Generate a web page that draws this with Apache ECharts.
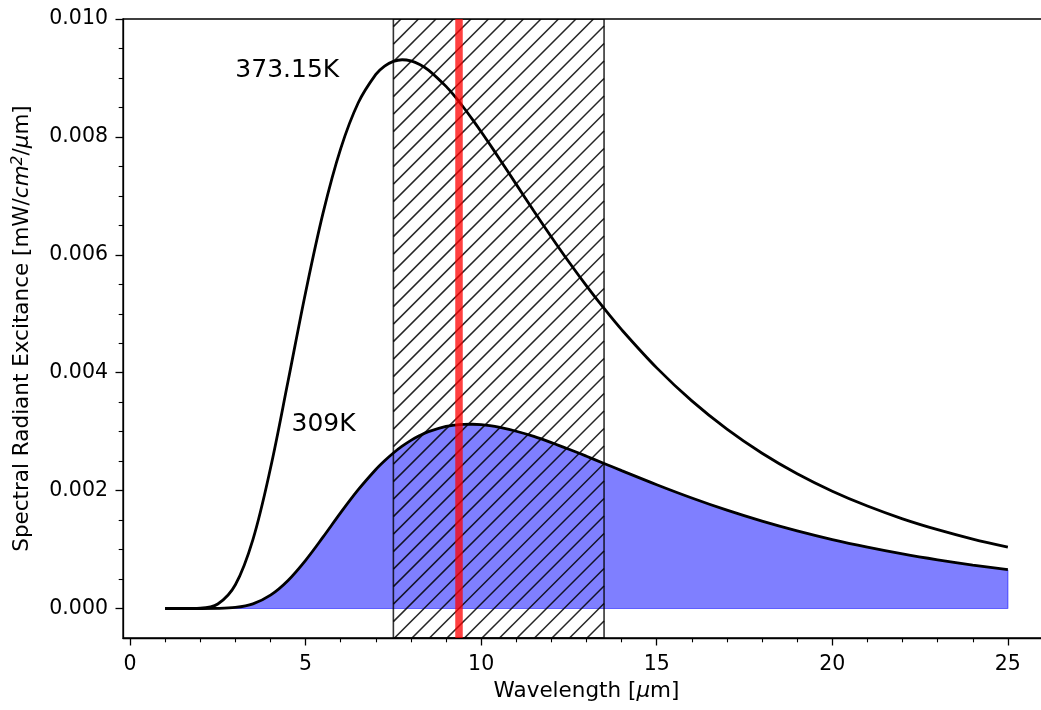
<!DOCTYPE html>
<html>
<head>
<meta charset="utf-8">
<script src="https://cdn.jsdelivr.net/npm/echarts@6/dist/echarts.min.js"></script>
<style>
html,body{margin:0;padding:0;background:#fff;}
#chart{width:1041px;height:710px;}
</style>
</head>
<body>
<div id="chart"></div>
<script>
// Wavelength grid [µm]
const wavelength = [1,1.5,2,2.5,3,3.5,4,4.5,5,5.5,6,6.5,7,7.25,7.5,7.75,8,8.25,8.5,9,9.25,9.5,9.75,10,10.25,10.5,11,11.5,12,12.5,13,13.5,14,15,16,17,18,19,20,21,22,23,24,25];
// Upper curve (373.15K)
const exc373 = [0,0,0.0000050,0.0000768,0.000403,0.001170,0.002379,0.003854,0.005362,0.006715,0.007801,0.008579,0.009060,0.009201,0.009281,0.009309,0.009288,0.009228,0.009133,0.008857,0.008686,0.008499,0.008298,0.008088,0.007870,0.007647,0.007195,0.006744,0.006303,0.005878,0.005473,0.005090,0.004730,0.004082,0.003522,0.003043,0.002634,0.002286,0.001990,0.001738,0.001522,0.001338,0.001179,0.001043];
// Lower, filled curve (labelled 309K)
const exc309 = [0,0,0,0.0000018,0.0000176,0.0000797,0.000227,0.000477,0.000818,0.001214,0.001626,0.002015,0.002358,0.002506,0.002638,0.002753,0.002852,0.002934,0.003000,0.003088,0.003112,0.003124,0.003126,0.003118,0.003101,0.003076,0.003007,0.002919,0.002815,0.002702,0.002583,0.002461,0.002339,0.002100,0.001875,0.001668,0.001482,0.001316,0.001169,0.001040,0.000925,0.000825,0.000737,0.000659];
// Hatched band and red marker line
const bandRange = [7.5, 13.5];
const peakLineX = [9.37];
// Annotations
const annoText = ['373.15K', '309K'];
const annoX = [3, 4.6];
const annoY = [0.009, 0.003];
// Ticks
const xMajorTicks = [0,5,10,15,20,25];
const xMinorTicks = [1,2,3,4,6,7,8,9,11,12,13,14,16,17,18,19,21,22,23,24,26];
const yMajorTicks = [0,0.002,0.004,0.006,0.008,0.010];
const yMinorTicks = [0.0005,0.001,0.0015,0.0025,0.003,0.0035,0.0045,0.005,0.0055,0.0065,0.007,0.0075,0.0085,0.009,0.0095];

const FONT = 'DejaVu Sans';
const chart = echarts.init(document.getElementById('chart'), null, {renderer:'canvas'});

const hotData = wavelength.map((x,i)=>[x, exc373[i]]);
const bodyData = wavelength.map((x,i)=>[x, exc309[i]]);
const lastX = wavelength[wavelength.length-1];
const lastY = exc309[exc309.length-1];

const xRange = {min:-0.2, max:26.2};
const yRange = {min:-0.0005, max:0.010};

function hatchRender(params, api){
  const x0 = api.coord([api.value(0), 0])[0];
  const x1 = api.coord([api.value(1), 0])[0];
  const cs = params.coordSys;
  const top = cs.y, bottom = cs.y + cs.height;
  const step = 17.5;
  const children = [];
  const cStart = Math.floor((x0 + top)/step)*step;
  for(let c = cStart; c <= x1 + bottom; c += step){
    const xa = Math.max(x0, c - bottom);
    const xb = Math.min(x1, c - top);
    if(xb > xa){
      children.push({type:'line', shape:{x1:xa, y1:c-xa, x2:xb, y2:c-xb},
        style:{stroke:'rgba(0,0,0,0.85)', lineWidth:1.5}});
    }
  }
  children.push({type:'rect', shape:{x:x0, y:top, width:x1-x0, height:bottom-top},
    style:{fill:'none', stroke:'rgba(0,0,0,0.8)', lineWidth:1.6}});
  return {type:'group', children};
}

function textRender(params, api){
  const p = api.coord([api.value(0), api.value(1)]);
  return {type:'text', x:p[0], y:p[1]+5,
    style:{text:annoText[params.dataIndex], fill:'#000', font:'25px "DejaVu Sans"',
           align:'left', verticalAlign:'bottom'}};
}

const axisFont = {fontFamily:FONT, fontSize:20.5, color:'#000'};

const option = {
  animation:false,
  backgroundColor:'#fff',
  grid:{left:123, top:19, width:927, height:619, show:true, borderColor:'#000', borderWidth:1.3,
        containLabel:false, outerBoundsMode:'none'},
  xAxis:[{
    type:'value', min:xRange.min, max:xRange.max,
    name:'Wavelength [{i|μ}m]', nameLocation:'middle', nameGap:42,
    nameTextStyle:{fontFamily:FONT, fontSize:21.5, color:'#000',
      rich:{i:{fontFamily:FONT, fontSize:21.5, fontStyle:'italic', color:'#000'}}},
    axisLine:{show:true, onZero:false, lineStyle:{color:'#000', width:1.3}},
    axisTick:{show:true, length:7.5, customValues:xMajorTicks, lineStyle:{color:'#000', width:1.3}},
    axisLabel:Object.assign({show:true, margin:16, customValues:xMajorTicks, formatter:v=>String(v)}, axisFont),
    splitLine:{show:false}
  },{
    type:'value', min:xRange.min, max:xRange.max, position:'bottom',
    axisLine:{show:false, onZero:false},
    axisTick:{show:true, length:4.3, customValues:xMinorTicks, lineStyle:{color:'#000', width:1.1}},
    axisLabel:{show:false}, splitLine:{show:false}
  }],
  yAxis:[{
    type:'value', min:yRange.min, max:yRange.max,
    name:'Spectral Radiant Excitance [mW/{i|cm}{sup|2}/{i|μ}m]', nameLocation:'middle', nameGap:89,
    nameTextStyle:{fontFamily:FONT, fontSize:21.5, color:'#000',
      rich:{i:{fontFamily:FONT, fontSize:21.5, fontStyle:'italic', color:'#000'},
            sup:{fontFamily:FONT, fontSize:15.5, fontStyle:'italic', color:'#000', verticalAlign:'top', padding:[0,0,8,0]}}},
    axisLine:{show:true, onZero:false, lineStyle:{color:'#000', width:1.3}},
    axisTick:{show:true, length:7.5, customValues:yMajorTicks, lineStyle:{color:'#000', width:1.3}},
    axisLabel:Object.assign({show:true, margin:15, customValues:yMajorTicks, formatter:v=>v.toFixed(3)}, axisFont),
    splitLine:{show:false}
  },{
    type:'value', min:yRange.min, max:yRange.max, position:'left',
    axisLine:{show:false, onZero:false},
    axisTick:{show:true, length:4.3, customValues:yMinorTicks, lineStyle:{color:'#000', width:1.1}},
    axisLabel:{show:false}, splitLine:{show:false}
  }],
  series:[
    {type:'line', name:'body', data:bodyData, smooth:0.35, showSymbol:false, symbol:'none',
     lineStyle:{color:'#000', width:2.8}, z:3,
     areaStyle:{color:'rgba(0,0,255,0.5)', opacity:1, origin:0}},
    {type:'line', name:'fillEdgeBottom', data:[[wavelength[0],0],[lastX,0],[lastX,lastY]], showSymbol:false, symbol:'none',
     lineStyle:{color:'rgba(0,0,255,0.5)', width:1.2}, z:2},
    {type:'line', name:'hot', data:hotData, smooth:0.35, showSymbol:false, symbol:'none',
     lineStyle:{color:'#000', width:2.8}, z:3},
    {type:'custom', name:'band', data:[bandRange], renderItem:hatchRender, z:4, clip:true,
     encode:{x:[0,1]}},
    {type:'line', name:'peak', data:[], z:5,
     markLine:{silent:true, symbol:'none', label:{show:false},
       lineStyle:{color:'rgba(255,0,0,0.75)', width:7.5, type:'solid'},
       data:peakLineX.map(v=>({xAxis:v}))}},
    {type:'custom', name:'annotations', data:annoX.map((x,i)=>[x, annoY[i]]),
     renderItem:textRender, z:6, encode:{x:0, y:1}}
  ]
};
chart.setOption(option);
</script>
</body>
</html>
